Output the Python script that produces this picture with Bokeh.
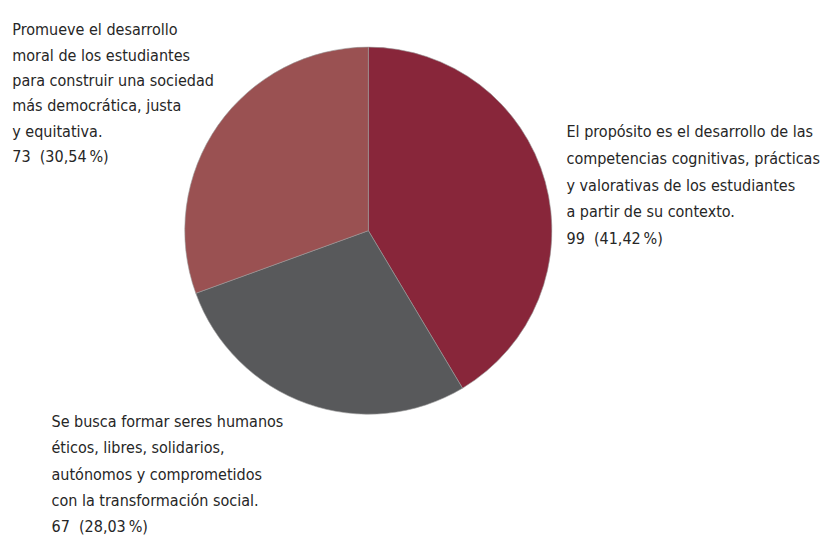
import numpy as np
from bokeh.plotting import figure
from bokeh.models import Range1d
from bokeh.core.properties import value
from bokeh.embed import file_html
from bokeh.resources import INLINE

# ---- data ----
categories = [
    "El propósito es el desarrollo de las\ncompetencias cognitivas, prácticas\ny valorativas de los estudiantes\na partir de su contexto.",
    "Se busca formar seres humanos\néticos, libres, solidarios,\nautónomos y comprometidos\ncon la transformación social.",
    "Promueve el desarrollo\nmoral de los estudiantes\npara construir una sociedad\nmás democrática, justa\ny equitativa.",
]
counts = [99, 67, 73]
percents = ["41,42", "28,03", "30,54"]
colors = ["#88263A", "#58595B", "#9A5152"]

W, H = 821, 538
SX, SY = W / 837, H / 554
p = figure(width=W, height=H, output_backend="svg", toolbar_location=None,
           x_range=Range1d(0, W), y_range=Range1d(0, H), min_border=0)
p.axis.visible = False
p.grid.visible = False
p.outline_line_color = None

def px(x):
    return x * SX

def py(y):
    return H - y * SY

# pie
total = sum(counts)
fr = np.array(counts) / total
ends = np.cumsum(fr) * 2 * np.pi
starts = np.concatenate([[0], ends[:-1]])
cx, cy, r = px(375), py(237), 189 * SY
p.wedge(x=cx, y=cy, radius=r,
        start_angle=list(np.pi / 2 - starts), end_angle=list(np.pi / 2 - ends),
        direction="clock", fill_color=colors, line_color="#9a9a9a", line_width=0.6)

# labels: (left x, first baseline, line step) in reference pixels
label_pos = [(577, 135, 27.5), (52, 434, 26.8), (12, 30, 26.2)]
font = value("'DejaVu Sans Condensed', 'Liberation Sans Narrow', 'Roboto Condensed', Roboto")
for cat, n, pc, (lx, ly, step) in zip(categories, counts, percents, label_pos):
    lines = cat.split("\n") + [f"{n}\u00a0\u00a0({pc}\u2009%)"]
    xs, ys = [], []
    for i, ln in enumerate(lines):
        xs.append(px(lx))
        ys.append(py(ly + i * step))
    p.text(x=xs, y=ys, text=lines, text_font=font, text_font_size="16px",
           text_color="#262626", text_baseline="alphabetic", text_align="left")

open("out.html", "w").write(file_html(p, INLINE))
